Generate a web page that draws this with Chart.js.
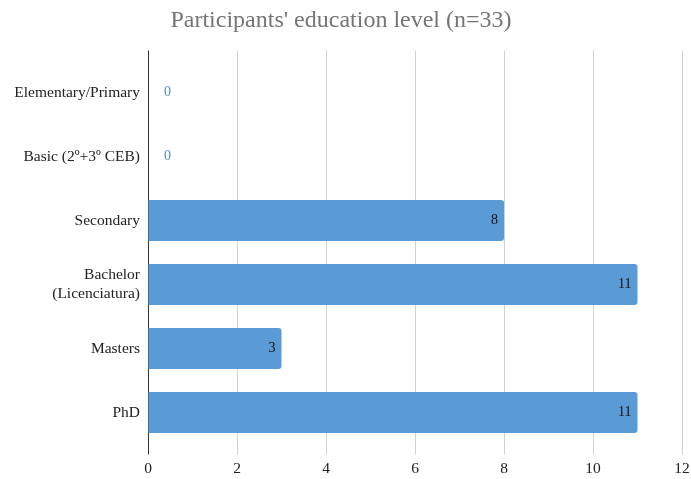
<!DOCTYPE html>
<html>
<head>
<meta charset="utf-8">
<script src="https://cdn.jsdelivr.net/npm/chart.js@4.4.1/dist/chart.umd.min.js"></script>
<style>
  html, body { margin: 0; padding: 0; background: #ffffff; }
  #wrap { width: 691px; height: 479px; }
</style>
</head>
<body>
<div id="wrap"><canvas id="c"></canvas></div>
<script>
const categories = [
  "Elementary/Primary",
  "Basic (2º+3º CEB)",
  "Secondary",
  ["Bachelor", "(Licenciatura)"],
  "Masters",
  "PhD"
];
const counts = [0, 0, 8, 11, 3, 11];
const xTicks = [0, 2, 4, 6, 8, 10, 12];
const chartTitle = "Participants' education level (n=33)";

const SERIF = "'Liberation Serif', 'Times New Roman', serif";
const BAR = '#5b9bd5';

const valueLabels = {
  id: 'valueLabels',
  afterDatasetsDraw(chart) {
    const ctx = chart.ctx;
    const meta = chart.getDatasetMeta(0);
    ctx.save();
    ctx.font = '14px ' + SERIF;
    ctx.textBaseline = 'middle';
    meta.data.forEach((el, i) => {
      const v = chart.data.datasets[0].data[i];
      if (v > 0) {
        ctx.fillStyle = '#111';
        ctx.textAlign = 'right';
        ctx.fillText(String(v), el.x - 6, el.y);
      } else {
        ctx.fillStyle = '#4a90d9';
        ctx.textAlign = 'left';
        ctx.fillText(String(v), el.x + 16, el.y);
      }
    });
    ctx.restore();
  }
};

const gridColor = c => (c.tick && c.tick.value === 0) ? '#333333' : '#d0d0d0';

new Chart(document.getElementById('c'), {
  type: 'bar',
  data: {
    labels: categories,
    datasets: [{
      data: counts,
      backgroundColor: BAR,
      borderWidth: 0,
      borderRadius: 3,
      categoryPercentage: 1.0,
      barPercentage: 0.64
    }]
  },
  options: {
    indexAxis: 'y',
    responsive: true,
    maintainAspectRatio: false,
    animation: false,
    layout: { padding: { left: 0, right: 9, top: 0, bottom: 0 } },
    plugins: {
      legend: { display: false },
      tooltip: { enabled: false },
      title: {
        display: true,
        text: chartTitle,
        color: '#757575',
        font: { family: SERIF, size: 24, weight: 'normal', lineHeight: 1.2 },
        padding: { top: 6, bottom: 15.2 }
      }
    },
    scales: {
      x: {
        type: 'linear',
        position: 'bottom',
        min: 0, max: 12,
        afterBuildTicks: s => { s.ticks = xTicks.map(v => ({ value: v })); },
        afterFit: s => { s.height = 34.5; s.paddingLeft = 0; s.paddingRight = 0; },
        grid: { color: gridColor, lineWidth: 1, drawTicks: true, tickLength: 10, tickColor: gridColor },
        border: { display: false },
        ticks: { color: '#222', padding: 5, maxRotation: 0, font: { family: SERIF, size: 15.5 } }
      },
      x2: {
        type: 'linear',
        position: 'top',
        min: 0, max: 12,
        afterBuildTicks: s => { s.ticks = xTicks.map(v => ({ value: v })); },
        afterFit: s => { s.height = 10.5; s.paddingLeft = 0; s.paddingRight = 0; },
        grid: { color: gridColor, drawOnChartArea: false, drawTicks: true, tickLength: 10, tickColor: gridColor },
        border: { display: false },
        ticks: { display: false }
      },
      y: {
        type: 'category',
        afterFit: s => { s.width = 148; },
        grid: { display: false, drawTicks: false },
        border: { display: false },
        ticks: { color: '#222', padding: 8, font: { family: SERIF, size: 15.5 } }
      }
    }
  },
  plugins: [valueLabels]
});
</script>
</body>
</html>
